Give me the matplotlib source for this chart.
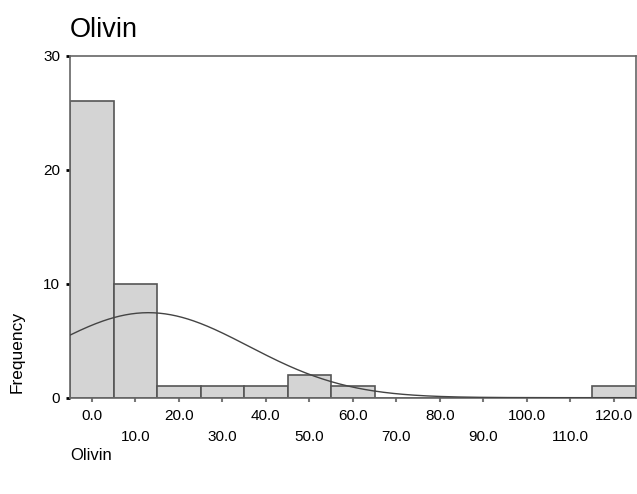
import matplotlib.pyplot as plt
import numpy as np

plt.rcParams['font.family'] = ['Liberation Sans', 'DejaVu Sans']

# bin centres (width 10) and counts
bin_centers = [0, 10, 20, 30, 40, 50, 60, 70, 80, 90, 100, 110, 120]
counts = [26, 10, 1, 1, 1, 2, 1, 0, 0, 0, 0, 0, 1]
bin_width = 10
# fitted normal curve parameters
mean_val = 13.0
std_val = 23.0
n_total = sum(counts)

fig = plt.figure(figsize=(6.37, 4.94), dpi=100)
ax = fig.add_axes([0.11, 0.195, 0.888, 0.692])

ax.bar(bin_centers, counts, width=bin_width, color='#d4d4d4',
       edgecolor='#555555', linewidth=1.2, zorder=2)

xs = np.linspace(-5, 125, 400)
ys = n_total * bin_width / (std_val * np.sqrt(2 * np.pi)) * np.exp(-(xs - mean_val) ** 2 / (2 * std_val ** 2))
ax.plot(xs, ys, color='#444444', linewidth=1.0, zorder=3)

ax.set_xlim(-5, 125)
ax.set_ylim(0, 30)

for s in ax.spines.values():
    s.set_color('#666666')
    s.set_linewidth(1.2)

ax.set_yticks([0, 10, 20, 30])
ax.tick_params(axis='y', direction='out', length=3, width=2, color='black',
               labelsize=11, pad=4)

evens = bin_centers[0::2]
odds = bin_centers[1::2]
ax.set_xticks(evens)
ax.set_xticklabels([f'{v:.1f}' for v in evens])
ax.set_xticks(odds, minor=True)
ax.set_xticklabels([f'{v:.1f}' for v in odds], minor=True)
ax.tick_params(axis='x', which='major', direction='out', length=3, width=1.5,
               color='#777777', labelsize=11, pad=5)
ax.tick_params(axis='x', which='minor', direction='out', length=3, width=1.5,
               color='#777777', labelsize=11, pad=20)

fig.text(70 / 637, 1 - 30 / 494, 'Olivin', fontsize=19.5, va='center', ha='left')
fig.text(17 / 637, 1 - 352 / 494, 'Frequency', fontsize=12.5, rotation=90,
         va='center', ha='center')
fig.text(70 / 637, 1 - 455 / 494, 'Olivin', fontsize=12, va='center', ha='left')

fig.savefig('out.png', dpi=100)
